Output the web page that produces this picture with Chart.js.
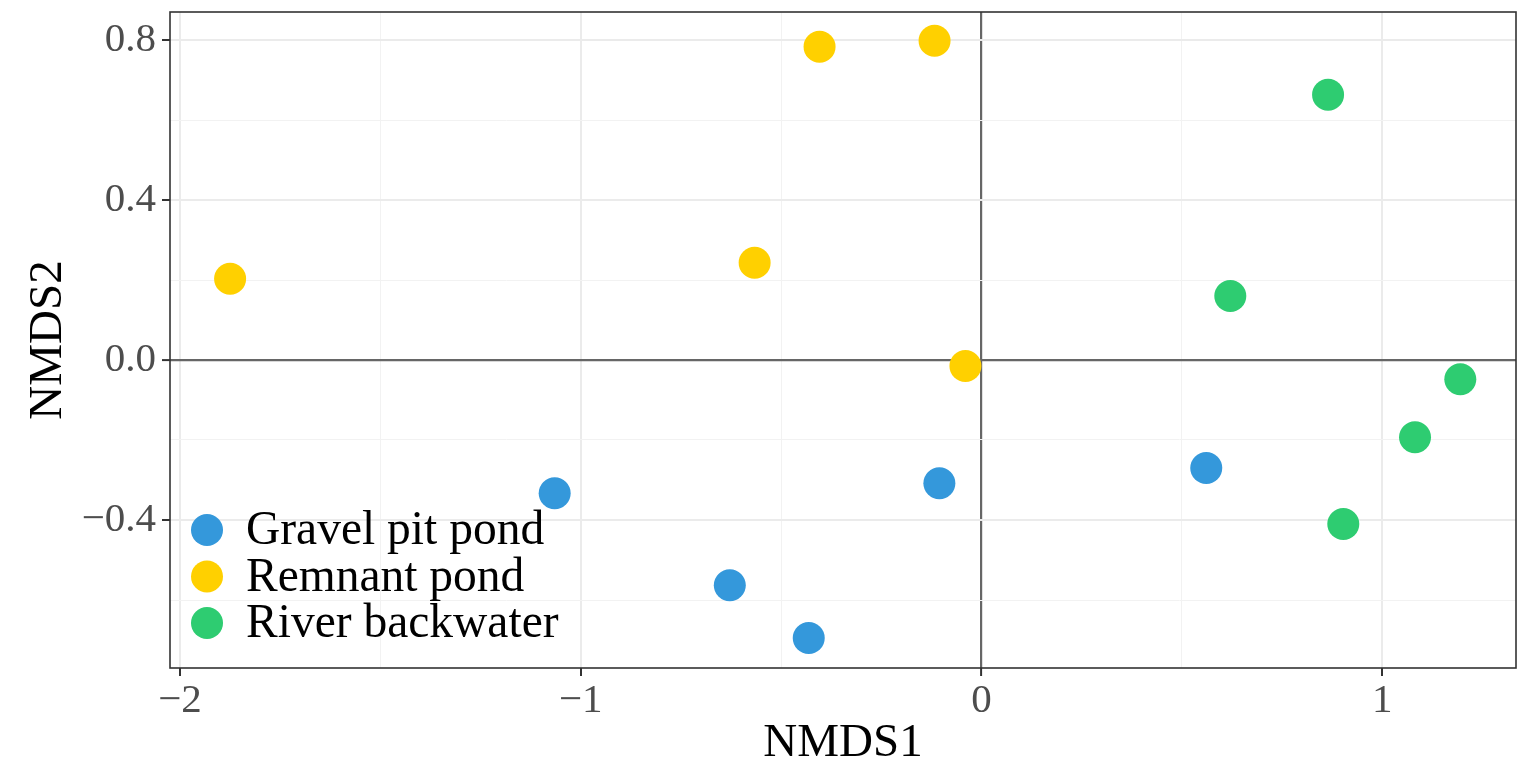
<!DOCTYPE html>
<html>
<head>
<meta charset="utf-8">
<script src="https://cdn.jsdelivr.net/npm/chart.js@4/dist/chart.umd.min.js"></script>
<style>
  html, body { margin: 0; padding: 0; background: #fff; }
  #wrap { width: 1517px; height: 767px; }
</style>
</head>
<body>
<div id="wrap"><canvas id="nmds" width="1517" height="767"></canvas></div>
<script>
const groups = ['Gravel pit pond', 'Remnant pond', 'River backwater'];
const groupColors = ['#3498db', '#ffd000', '#2ecc71'];

const gravelX = [-1.065, -0.628, -0.431, -0.105, 0.561];
const gravelY = [-0.333, -0.563, -0.695, -0.308, -0.270];
const remnantX = [-1.875, -0.566, -0.404, -0.117, -0.040];
const remnantY = [0.203, 0.243, 0.783, 0.798, -0.015];
const riverX = [0.621, 0.865, 0.903, 1.082, 1.195];
const riverY = [0.160, 0.663, -0.410, -0.193, -0.048];

const xTicks = [-2, -1.5, -1, -0.5, 0, 0.5, 1];
const xMajor = [-2, -1, 0, 1];
const yTicks = [-0.6, -0.4, -0.2, 0, 0.2, 0.4, 0.6, 0.8];
const yMajor = [-0.4, 0, 0.4, 0.8];

const FONT = "'Liberation Serif', 'Times New Roman', serif";

function pts(xs, ys) {
    return xs.map((x, i) => ({ x: x, y: ys[i] }));
}
function isMajor(list, v) {
    return list.some(m => Math.abs(m - v) < 1e-9);
}
function minus(s) {
    return s.replace('-', '\u2212');
}
function noPad(s) {
    s.paddingLeft = 0; s.paddingRight = 0; s.paddingTop = 0; s.paddingBottom = 0;
}

const panelBorder = {
    id: 'panelBorder',
    afterDraw(chart) {
        const a = chart.chartArea, c = chart.ctx;
        c.save();
        c.strokeStyle = '#333333';
        c.lineWidth = 1.6;
        c.strokeRect(a.left, a.top, a.right - a.left, a.bottom - a.top);
        c.restore();
    }
};

const insideLegend = {
    id: 'insideLegend',
    afterDatasetsDraw(chart) {
        const a = chart.chartArea, c = chart.ctx;
        c.save();
        c.font = '47.5px ' + FONT;
        c.textBaseline = 'middle';
        groups.forEach((g, i) => {
            const y = a.bottom - 138 + i * 46.5;
            c.beginPath();
            c.arc(a.left + 37, y, 16, 0, Math.PI * 2);
            c.fillStyle = groupColors[i];
            c.fill();
            c.fillStyle = '#000';
            c.fillText(g, a.left + 76, y + 2);
        });
        c.restore();
    }
};

const dataSets = [pts(gravelX, gravelY), pts(remnantX, remnantY), pts(riverX, riverY)];

function gridColor(major) {
    return c => {
        const v = c.tick ? c.tick.value : 99;
        if (v === 0) return '#666666';
        return isMajor(major, v) ? '#ebebeb' : '#f2f2f2';
    };
}
function gridWidth(major) {
    return c => {
        const v = c.tick ? c.tick.value : 99;
        if (v === 0) return 2.2;
        return isMajor(major, v) ? 2 : 1;
    };
}

new Chart(document.getElementById('nmds'), {
    type: 'scatter',
    data: {
        datasets: groups.map((g, i) => ({
            label: g,
            data: dataSets[i],
            backgroundColor: groupColors[i],
            borderWidth: 0,
            pointRadius: 16,
            pointHoverRadius: 16
        }))
    },
    options: {
        responsive: false,
        animation: false,
        layout: { autoPadding: false, padding: { top: 12, right: 1, left: 0, bottom: 0 } },
        plugins: { legend: { display: false }, tooltip: { enabled: false } },
        scales: {
            x: {
                type: 'linear',
                min: -2.025,
                max: 1.334,
                afterBuildTicks: s => { s.ticks = xTicks.map(v => ({ value: v })); },
                afterFit: s => { s.height = 99; noPad(s); },
                border: { display: false },
                grid: {
                    color: gridColor(xMajor),
                    lineWidth: gridWidth(xMajor),
                    tickColor: c => isMajor(xMajor, c.tick ? c.tick.value : 99) ? '#333333' : 'rgba(0,0,0,0)',
                    tickWidth: 2,
                    tickLength: 8
                },
                ticks: {
                    color: '#4d4d4d',
                    font: { family: FONT, size: 41 },
                    padding: 1,
                    autoSkip: false,
                    maxRotation: 0,
                    callback: v => isMajor(xMajor, v) ? minus(String(v)) : ''
                },
                title: {
                    display: true,
                    text: 'NMDS1',
                    color: '#000',
                    font: { family: FONT, size: 47, lineHeight: 1 },
                    padding: { top: 0, bottom: 0 }
                }
            },
            y: {
                type: 'linear',
                min: -0.77,
                max: 0.87,
                afterBuildTicks: s => { s.ticks = yTicks.map(v => ({ value: v })); },
                afterFit: s => { s.width = 170; noPad(s); },
                border: { display: false },
                grid: {
                    color: gridColor(yMajor),
                    lineWidth: gridWidth(yMajor),
                    tickColor: c => isMajor(yMajor, c.tick ? c.tick.value : 99) ? '#333333' : 'rgba(0,0,0,0)',
                    tickWidth: 2,
                    tickLength: 8
                },
                ticks: {
                    color: '#4d4d4d',
                    font: { family: FONT, size: 41 },
                    padding: 6,
                    autoSkip: false,
                    callback: v => isMajor(yMajor, v) ? minus(v.toFixed(1)) : ''
                },
                title: {
                    display: true,
                    text: 'NMDS2',
                    color: '#000',
                    font: { family: FONT, size: 47 },
                    padding: { top: 20, bottom: 0 }
                }
            }
        }
    },
    plugins: [panelBorder, insideLegend]
});
</script>
</body>
</html>
